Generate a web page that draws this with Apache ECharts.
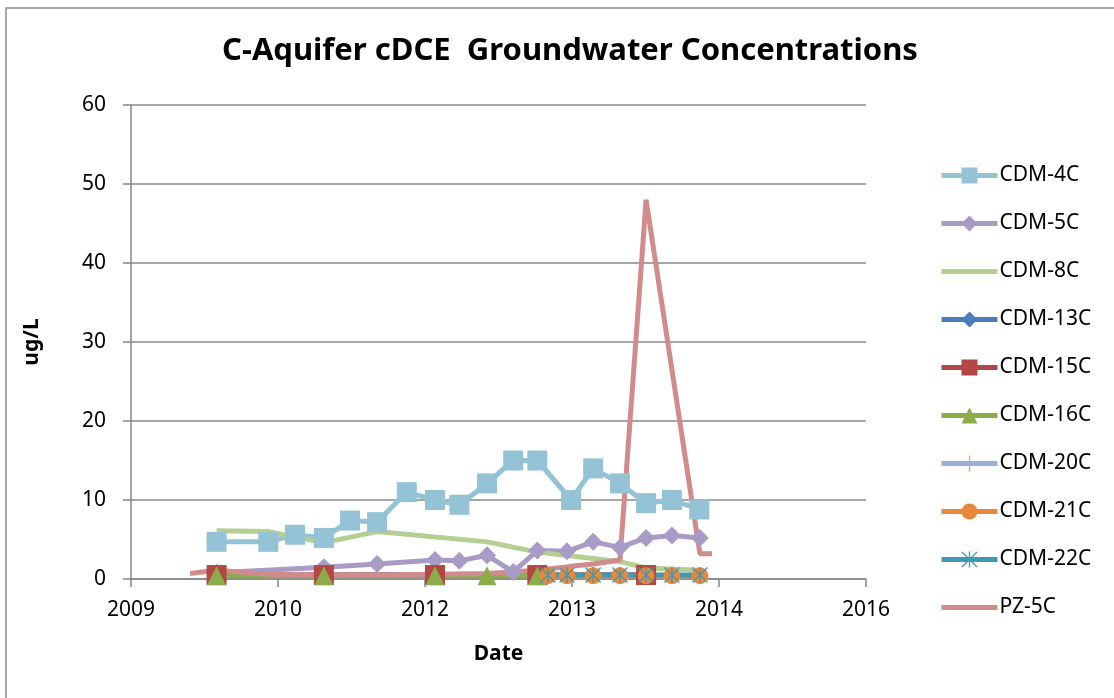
<!DOCTYPE html>
<html>
<head>
<meta charset="utf-8">
<script src="https://cdn.jsdelivr.net/npm/echarts@6/dist/echarts.min.js"></script>
<style>
  html, body { margin: 0; padding: 0; background: #fff; }
  #chart { width: 1114px; height: 698px; }
</style>
</head>
<body>
<div id="chart"></div>
<script>
// sample dates and cDCE values (ug/L) per well
var dates4C = ['2010-04-23', '2010-10-16', '2011-01-15', '2011-04-23', '2011-07-21', '2011-10-21', '2012-01-30', '2012-05-05', '2012-07-27', '2012-10-29', '2013-01-26', '2013-04-18', '2013-08-11', '2013-10-25', '2014-01-24', '2014-04-23', '2014-07-20', '2014-10-21'];
var values4C = [4.7, 4.7, 5.6, 5.2, 7.4, 7.2, 11.0, 10.0, 9.4, 12.1, 15.0, 15.0, 10.0, 14.0, 12.1, 9.6, 10.0, 8.8];

var dates5C = ['2010-04-23', '2011-04-23', '2011-10-21', '2012-05-05', '2012-07-27', '2012-10-29', '2013-01-26', '2013-04-18', '2013-07-28', '2013-10-25', '2014-01-24', '2014-04-23', '2014-07-20', '2014-10-23'];
var values5C = [0.8, 1.5, 1.9, 2.4, 2.3, 3.0, 0.9, 3.6, 3.5, 4.7, 4.0, 5.2, 5.5, 5.2];

var dates8C = ['2010-04-23', '2010-10-16', '2011-04-23', '2011-10-21', '2012-10-29', '2013-04-18', '2013-10-25', '2014-01-24', '2014-04-23', '2014-10-23'];
var values8C = [6.1, 6.0, 4.6, 6.0, 4.7, 3.4, 2.6, 2.2, 1.4, 1.1];

var dates13C = ['2010-04-23', '2011-04-23', '2012-05-05', '2013-04-18', '2014-04-23'];
var values13C = [0.5, 0.5, 0.5, 0.5, 0.5];

var dates15C = ['2010-04-23', '2011-04-23', '2012-05-05', '2013-04-18', '2014-04-23'];
var values15C = [0.5, 0.5, 0.5, 0.5, 0.5];

var dates16C = ['2010-04-23', '2011-04-23', '2012-05-05', '2012-10-29', '2013-04-18'];
var values16C = [0.4, 0.4, 0.4, 0.4, 0.4];

var dates20C = ['2013-05-24', '2013-07-28', '2013-10-25', '2014-01-24', '2014-04-23', '2014-07-20', '2014-10-23'];
var values20C = [0.4, 0.4, 0.4, 0.4, 0.4, 0.4, 0.4];

var dates21C = ['2013-05-24', '2013-07-28', '2013-10-25', '2014-01-24', '2014-04-23', '2014-07-20', '2014-10-23'];
var values21C = [0.4, 0.4, 0.4, 0.4, 0.4, 0.4, 0.4];

var dates22C = ['2013-05-24', '2013-07-28', '2013-10-25', '2014-01-24', '2014-04-23', '2014-07-20', '2014-10-23'];
var values22C = [0.5, 0.5, 0.5, 0.5, 0.5, 0.5, 0.5];

var datesPZ5C = ['2010-01-23', '2010-04-23', '2010-10-16', '2011-04-23', '2011-10-21', '2012-05-05', '2012-10-29', '2013-04-18', '2013-08-11', '2013-10-25', '2014-01-24', '2014-04-23', '2014-10-23', '2014-12-03'];
var valuesPZ5C = [0.7, 1.1, 0.6, 0.5, 0.5, 0.6, 0.7, 1.1, 1.6, 1.9, 2.4, 48, 3.2, 3.2];

var yTicks = [0, 10, 20, 30, 40, 50, 60];

// spreadsheet style day numbers, the date axis runs on these
function toSerial(s) {
  var p = s.split('-');
  return Date.UTC(+p[0], +p[1] - 1, +p[2]) / 86400000 + 25569;
}
function toYear(serial) {
  return new Date((serial - 25569) * 86400000).getUTCFullYear();
}
function pairs(dates, values) {
  return dates.map(function (d, i) { return [toSerial(d), values[i]]; });
}

var FONT = 'Noto Sans';
var plusPath = 'path://M4.6,0L5.4,0L5.4,10L4.6,10Z M0,4.6L10,4.6L10,5.4L0,5.4Z';
var starPath = 'path://M4.6,0L5.4,0L5.4,10L4.6,10Z M0,0.6L0.6,0L10,9.4L9.4,10Z M9.4,0L10,0.6L0.6,10L0,9.4Z';

function line(name, data, color, symbol, size, width) {
  return {
    name: name,
    type: 'line',
    data: data,
    symbol: symbol,
    symbolSize: size,
    showSymbol: symbol !== 'none',
    lineStyle: { color: color, width: width, join: 'bevel', cap: 'butt' },
    itemStyle: { color: color },
    emphasis: { disabled: true },
    animation: false
  };
}

var chart = echarts.init(document.getElementById('chart'));
chart.setOption({
  backgroundColor: '#ffffff',
  title: {
    text: 'C-Aquifer cDCE  Groundwater Concentrations',
    left: 565,
    textAlign: 'center',
    top: 31,
    textStyle: { fontFamily: FONT, fontSize: 31, fontWeight: 'bold', color: '#000' }
  },
  graphic: [{
    type: 'rect',
    shape: { x: 6, y: 8, width: 1130, height: 720 },
    style: { fill: 'none', stroke: '#8c8c8c', lineWidth: 1.5 },
    silent: true
  }],
  legend: {
    orient: 'vertical',
    left: 934,
    top: 160,
    itemWidth: 56,
    itemHeight: 20,
    itemGap: 27,
    lineStyle: { width: 5 },
    textStyle: { fontFamily: FONT, fontSize: 21, color: '#000', lineHeight: 20, padding: [0, 0, 0, -3] },
    data: [
      'CDM-4C', 'CDM-5C',
      { name: 'CDM-8C', itemStyle: { opacity: 0 } },
      'CDM-13C', 'CDM-15C', 'CDM-16C', 'CDM-20C', 'CDM-21C', 'CDM-22C',
      { name: 'PZ-5C', itemStyle: { opacity: 0 } }
    ]
  },
  grid: { left: 131, right: 248, top: 105, bottom: 119 },
  xAxis: {
    type: 'value',
    min: 40000,
    max: 42500,
    interval: 500,
    name: 'Date',
    nameLocation: 'middle',
    nameGap: 65,
    nameTextStyle: { fontFamily: FONT, fontSize: 21, fontWeight: 'bold', color: '#000' },
    axisLine: { onZero: false, lineStyle: { color: '#868686', width: 1.5 } },
    axisTick: { show: true, length: 8, lineStyle: { color: '#868686', width: 1.5 } },
    axisLabel: {
      margin: 21,
      fontFamily: FONT, fontSize: 21, color: '#000',
      formatter: function (v) { return String(toYear(v)); }
    },
    splitLine: { show: false }
  },
  yAxis: {
    type: 'value',
    min: yTicks[0],
    max: yTicks[yTicks.length - 1],
    interval: 10,
    name: 'ug/L',
    nameLocation: 'middle',
    nameGap: 88,
    nameRotate: 90,
    nameTextStyle: { fontFamily: FONT, fontSize: 21, fontWeight: 'bold', color: '#000' },
    axisLine: { show: true, lineStyle: { color: '#868686', width: 1.5 } },
    axisTick: { show: true, length: 8, lineStyle: { color: '#868686', width: 1.5 } },
    axisLabel: { margin: 25, fontFamily: FONT, fontSize: 21, color: '#000' },
    splitLine: { show: true, lineStyle: { color: '#898989', width: 1.5 } }
  },
  series: [
    line('CDM-4C', pairs(dates4C, values4C), '#93C3D5', 'rect', 20, 5),
    line('CDM-5C', pairs(dates5C, values5C), '#A89BC6', 'diamond', 18, 5),
    line('CDM-8C', pairs(dates8C, values8C), '#B5CE92', 'none', 0, 5),
    line('CDM-13C', pairs(dates13C, values13C), '#4A7EBB', 'diamond', 18, 5),
    line('CDM-15C', pairs(dates15C, values15C), '#B24743', 'rect', 20, 5),
    line('CDM-16C', pairs(dates16C, values16C), '#8AAD4A', 'triangle', 19, 5),
    line('CDM-20C', pairs(dates20C, values20C), '#9AAED9', plusPath, 16, 5),
    line('CDM-21C', pairs(dates21C, values21C), '#E9883A', 'circle', 17, 5),
    line('CDM-22C', pairs(dates22C, values22C), '#3F99B1', starPath, 16, 5),
    line('PZ-5C', pairs(datesPZ5C, valuesPZ5C), '#D08C8C', 'none', 0, 5)
  ]
});
</script>
</body>
</html>
